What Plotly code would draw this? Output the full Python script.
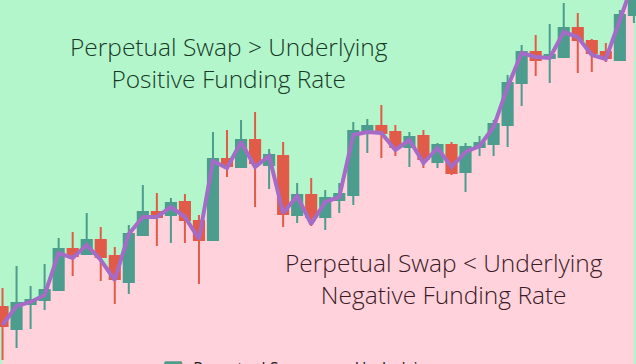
import plotly.graph_objects as go

# candle index
idx = list(range(46))
# OHLC values (chart units)
opens = [57, 35, 60, 64, 74, 115, 110, 124, 108, 82, 129, 152, 149, 162, 143, 124, 205, 197, 224, 199,
         208, 149, 169, 147, 164, 169, 232, 238, 232, 217, 228, 202, 219, 192, 217, 220, 239, 281, 312, 306,
         307, 336, 323, 312, 304, 349]
highs = [76, 98, 78, 100, 126, 132, 151, 137, 117, 139, 179, 171, 166, 170, 149, 232, 234, 244, 252, 215,
         222, 181, 186, 174, 181, 242, 245, 259, 239, 232, 234, 221, 222, 221, 228, 244, 289, 319, 329, 340,
         361, 351, 325, 321, 354, 400]
lows = [4, 16, 35, 54, 74, 88, 110, 83, 60, 70, 129, 118, 121, 121, 80, 124, 187, 197, 157, 175,
        137, 141, 138, 134, 151, 159, 211, 206, 208, 197, 196, 196, 189, 172, 208, 208, 217, 258, 288, 281,
        307, 291, 292, 302, 304, 341]
closes = [38, 61, 64, 74, 115, 108, 124, 107, 85, 130, 152, 147, 161, 144, 124, 205, 198, 224, 201, 209,
          150, 169, 147, 166, 170, 233, 238, 231, 217, 227, 205, 219, 191, 217, 221, 240, 281, 312, 304, 309,
          336, 324, 311, 306, 349, 394]
# underlying price
underlying = [39, 58, 62, 69, 111, 106, 119, 104, 84, 130, 147, 147, 157, 147, 125, 203, 196, 222, 197, 208,
              151, 168, 140, 162, 167, 229, 232, 231, 214, 224, 201, 216, 197, 212, 218, 237, 277, 311, 307, 306,
              332, 327, 309, 305, 344, 384]

top_text = "Perpetual Swap > Underlying<br>Positive Funding Rate"
bottom_text = "Perpetual Swap < Underlying<br>Negative Funding Rate"

GREEN_BG = "#b3f6cc"
PINK_BG = "#ffd2dc"
UP = "#4c9d8e"
DOWN = "#e25b49"
PURPLE = "#a46bc7"
FONT = "Open Sans"

X_RANGE = [-0.18, 45.15]
Y_RANGE = [0, 364]

fig = go.Figure()

# pink region under the underlying line (on the base subplot, drawn beneath the candles)
fig.add_trace(go.Scatter(x=idx, y=underlying, mode="lines", line=dict(width=0, color=PINK_BG),
                         fill="tozeroy", fillcolor=PINK_BG, showlegend=False, hoverinfo="skip",
                         xaxis="x", yaxis="y"))

fig.add_trace(go.Candlestick(
    x=idx, open=opens, high=highs, low=lows, close=closes, name="Perpetual Swap",
    increasing=dict(line=dict(color=UP, width=2), fillcolor=UP),
    decreasing=dict(line=dict(color=DOWN, width=2), fillcolor=DOWN),
    whiskerwidth=0, xaxis="x2", yaxis="y2",
))

fig.add_trace(go.Scatter(x=idx, y=underlying, mode="lines", name="Underlying",
                         line=dict(color=PURPLE, width=4), xaxis="x2", yaxis="y2"))

fig.add_annotation(x=0.360, y=0.828, xref="paper", yref="paper", showarrow=False, text=top_text,
                   xanchor="center", yanchor="middle", align="center",
                   font=dict(family=FONT, size=24.5, color="#173a26", weight=300))
fig.add_annotation(x=0.698, y=0.236, xref="paper", yref="paper", showarrow=False, text=bottom_text,
                   xanchor="center", yanchor="middle", align="center",
                   font=dict(family=FONT, size=24.5, color="#3a1a24", weight=300))

fig.update_layout(
    width=636, height=364,
    margin=dict(l=0, r=0, t=0, b=0, autoexpand=False),
    paper_bgcolor=PINK_BG, plot_bgcolor=GREEN_BG,
    showlegend=True,
    boxgap=0.15, boxgroupgap=0.15,
    legend=dict(orientation="h", x=0.241, y=0.035, xanchor="left", yanchor="top",
                bgcolor="rgba(0,0,0,0)", font=dict(family=FONT, size=16, color="#222222")),
    xaxis=dict(range=X_RANGE, visible=False, fixedrange=True),
    yaxis=dict(range=Y_RANGE, visible=False, fixedrange=True),
    xaxis2=dict(range=X_RANGE, visible=False, fixedrange=True, overlaying="x",
                rangeslider=dict(visible=False)),
    yaxis2=dict(range=Y_RANGE, visible=False, fixedrange=True, overlaying="y"),
)

fig.write_html("out.html", config={"displayModeBar": False},
               post_script="document.body.style.margin='0';document.body.style.overflow='hidden';")
